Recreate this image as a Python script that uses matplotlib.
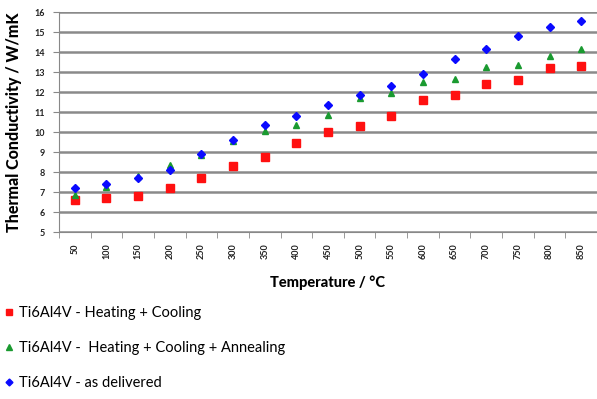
import matplotlib
matplotlib.use("Agg")
import matplotlib.pyplot as plt
from matplotlib.lines import Line2D

temps = [50, 100, 150, 200, 250, 300, 350, 400, 450, 500, 550, 600, 650, 700, 750, 800, 850]
heat_cool = [6.6, 6.7, 6.8, 7.2, 7.7, 8.3, 8.75, 9.45, 10.0, 10.3, 10.8, 11.6, 11.85, 12.4, 12.6, 13.2, 13.3]
heat_cool_anneal = [6.85, 7.25, 7.8, 8.35, 8.85, 9.55, 10.05, 10.35, 10.85, 11.7, 11.95, 12.5, 12.65, 13.25, 13.35, 13.8, 14.15]
as_delivered = [7.2, 7.4, 7.7, 8.1, 8.9, 9.6, 10.35, 10.8, 11.35, 11.85, 12.3, 12.9, 13.65, 14.15, 14.8, 15.25, 15.55]
labels = ["Ti6Al4V - Heating + Cooling",
          "Ti6Al4V -  Heating + Cooling + Annealing",
          "Ti6Al4V - as delivered"]

plt.rcParams['font.family'] = ['Lato', 'DejaVu Sans']

fig = plt.figure(figsize=(5.97, 3.99), dpi=100)
ax = fig.add_axes([59 / 597, 1 - 232 / 399, 1 - 59 / 597, 220 / 399])

x = list(range(len(temps)))
ax.plot(x, heat_cool, ls='none', marker='s', ms=5.2, color='#ff1010', mec='#ff1010')
ax.plot(x, heat_cool_anneal, ls='none', marker='^', ms=4.6, color='#1a9a30', mec='#1a9a30')
ax.plot(x, as_delivered, ls='none', marker='D', ms=3.6, color='#0a0aff', mec='#0a0aff')

ax.set_xlim(-0.5, len(temps) - 0.5)
ax.set_ylim(5, 16)
ax.set_yticks(range(5, 17))
ax.set_yticklabels([str(v) for v in range(5, 17)], fontsize=6.5, fontweight='bold', color='#222222')
ax.set_xticks(x)
ax.set_xticklabels([str(t) for t in temps], rotation=90, fontsize=6.5, fontweight='bold', color='#222222')
ax.set_xticks([i + 0.5 for i in range(-1, len(temps))], minor=True)
ax.tick_params(axis='x', which='major', length=0, pad=8)
ax.tick_params(axis='x', which='minor', length=4, color='#888888', direction='out')
ax.tick_params(axis='y', length=4, color='#888888', pad=6)

ax.yaxis.grid(True, color='#8a8a8a', lw=1.8)
ax.set_axisbelow(True)
for side in ['top', 'right']:
    ax.spines[side].set_visible(False)
ax.spines['left'].set_color('#888888')
ax.spines['bottom'].set_color('#888888')

ax.set_ylabel("Thermal Conductivity / W/mK", fontsize=11.5, fontweight='black', labelpad=9)
ax.set_xlabel("Temperature / °C", fontsize=10.5, fontweight='black', labelpad=12)

handles = [
    Line2D([], [], ls='none', marker='s', ms=5, color='#ff1010'),
    Line2D([], [], ls='none', marker='^', ms=4.5, color='#1a9a30'),
    Line2D([], [], ls='none', marker='D', ms=3.5, color='#0a0aff'),
]
fig.legend(handles, labels, loc='upper left', bbox_to_anchor=(0.0, 1 - 303 / 399),
           frameon=False, fontsize=10.5, handlelength=0.8, handletextpad=0.3,
           labelspacing=1.45, borderaxespad=0, borderpad=0.2)

fig.savefig("out.png", dpi=100)
